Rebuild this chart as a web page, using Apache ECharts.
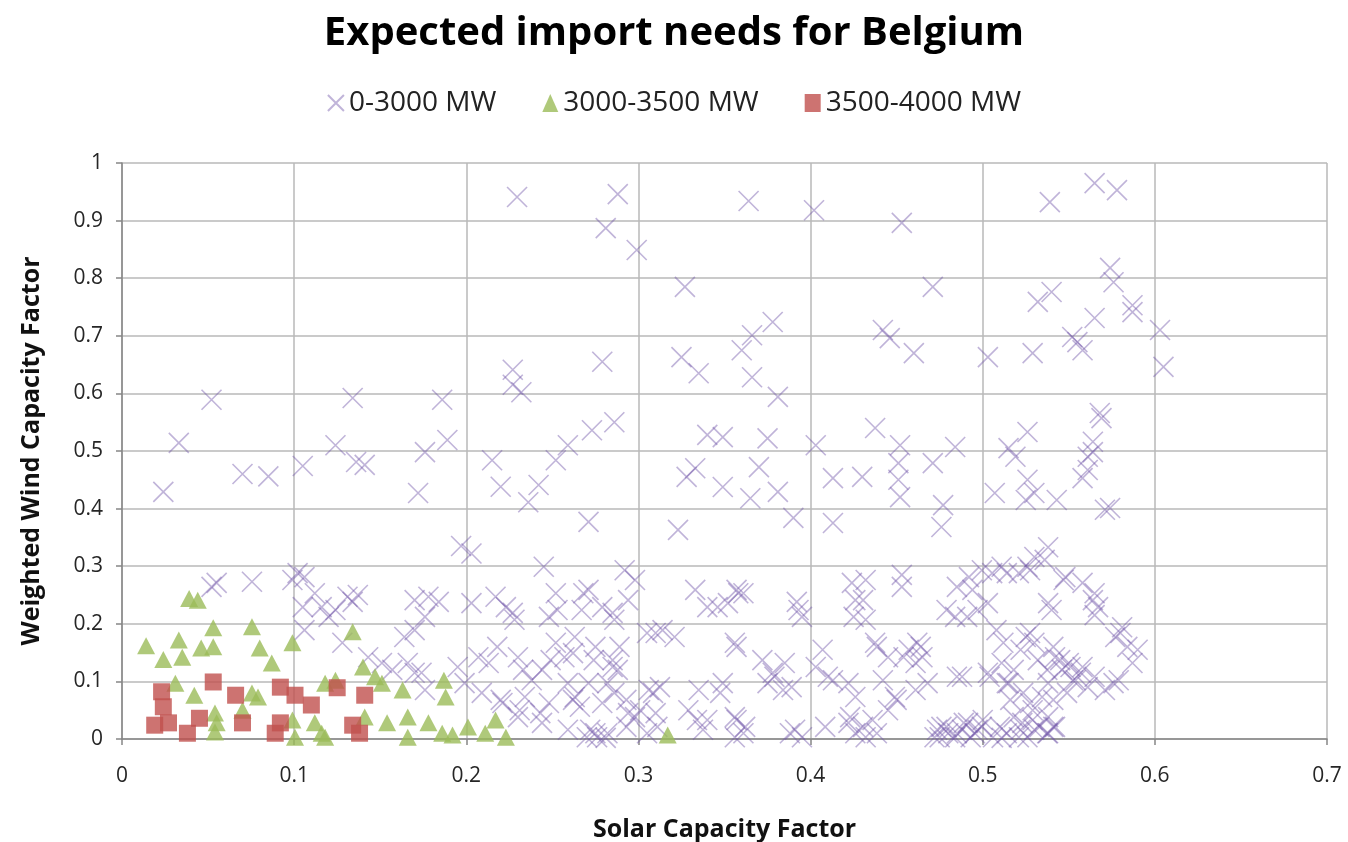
<!DOCTYPE html>
<html>
<head>
<meta charset="utf-8">
<title>Expected import needs for Belgium</title>
<script src="https://cdn.jsdelivr.net/npm/echarts@6/dist/echarts.min.js"></script>
<style>
  html, body { margin: 0; padding: 0; background: #ffffff; }
  #chart { width: 1348px; height: 842px; }
</style>
</head>
<body>
<div id="chart"></div>
<script>
// Legend / series names
const seriesNames = ['0-3000 MW', '3000-3500 MW', '3500-4000 MW'];

// Axis ticks
const xTicks = [0, 0.1, 0.2, 0.3, 0.4, 0.5, 0.6, 0.7];
const yTicks = [0, 0.1, 0.2, 0.3, 0.4, 0.5, 0.6, 0.7, 0.8, 0.9, 1];

// [solar capacity factor, weighted wind capacity factor] — import need 0-3000 MW
const importLow = [
  [0.024,0.429],[0.033,0.514],[0.052,0.589],[0.070,0.460],[0.085,0.456],[0.105,0.474],[0.124,0.51],[0.134,0.592],[0.136,0.481],[0.141,0.476],
  [0.172,0.427],[0.176,0.498],[0.186,0.589],[0.189,0.519],[0.197,0.335],[0.203,0.322],
  [0.215,0.484],[0.220,0.438],[0.227,0.641],[0.227,0.615],[0.232,0.602],[0.2295,0.941],[0.236,0.411],[0.242,0.441],[0.252,0.484],[0.259,0.51],
  [0.273,0.536],[0.286,0.55],[0.271,0.377],[0.279,0.655],[0.281,0.887],[0.288,0.946],[0.299,0.849],[0.323,0.363],[0.325,0.663],[0.327,0.785],
  [0.328,0.455],[0.333,0.470],[0.335,0.635],[0.34,0.528],
  [0.349,0.524],[0.349,0.4375],[0.360,0.675],[0.364,0.934],[0.365,0.418],[0.366,0.701],[0.366,0.628],[0.370,0.472],[0.375,0.522],[0.378,0.724],
  [0.381,0.594],[0.381,0.429],[0.390,0.384],[0.402,0.918],[0.403,0.51],[0.413,0.453],[0.413,0.375],[0.430,0.455],[0.4375,0.54],[0.442,0.710],
  [0.446,0.696],[0.451,0.479],[0.451,0.45],[0.452,0.42],[0.452,0.51],[0.453,0.896],[0.460,0.670],[0.471,0.785],[0.471,0.479],[0.476,0.368],
  [0.477,0.406],[0.484,0.507],[0.503,0.663],[0.507,0.427],[0.515,0.505],[0.519,0.49],
  [0.525,0.415],[0.526,0.533],[0.526,0.45],[0.529,0.670],[0.530,0.427],[0.532,0.759],[0.539,0.932],[0.540,0.776],[0.543,0.415],[0.552,0.698],
  [0.555,0.689],[0.558,0.675],[0.558,0.453],[0.561,0.49],[0.561,0.467],[0.564,0.516],[0.564,0.498],[0.565,0.731],[0.565,0.965],[0.568,0.566],
  [0.569,0.557],[0.571,0.398],[0.574,0.401],[0.574,0.818],[0.576,0.793],[0.578,0.953],[0.587,0.753],[0.587,0.741],[0.603,0.71],[0.605,0.646],
  [0.052,0.264],[0.055,0.271],[0.0755,0.273],[0.099,0.276],[0.102,0.288],[0.106,0.281],[0.112,0.253],[0.105,0.229],[0.106,0.189],[0.116,0.229],
  [0.124,0.224],[0.131,0.247],[0.134,0.238],[0.137,0.25],[0.120,0.212],[0.128,0.167],[0.170,0.241],[0.170,0.189],[0.164,0.177],[0.143,0.142],
  [0.151,0.132],[0.157,0.12],[0.166,0.132],[0.170,0.115],
  [0.245,0.299],[0.292,0.293],[0.298,0.276],[0.333,0.259],[0.340,0.229],[0.178,0.247],[0.184,0.238],[0.176,0.212],[0.203,0.236],[0.217,0.247],
  [0.223,0.229],[0.228,0.207],[0.252,0.253],[0.253,0.224],[0.248,0.212],[0.271,0.259],[0.267,0.224],[0.279,0.229],[0.286,0.207],[0.294,0.241],
  [0.310,0.184],[0.321,0.177],[0.314,0.189],[0.218,0.160],[0.213,0.132],[0.230,0.142],[0.238,0.102],[0.244,0.12],[0.252,0.167],[0.257,0.142],
  [0.263,0.177],[0.275,0.160],[0.285,0.137],[0.288,0.12],[0.259,0.097],[0.263,0.073],[0.271,0.097],[0.279,0.0625],[0.286,0.08],[0.294,0.045],
  [0.298,0.038],[0.306,0.085],[0.310,0.045],[0.311,0.021],[0.329,0.05],[0.335,0.085],[0.340,0.033],[0.275,0.010],[0.270,0.003],[0.281,0.002],
  [0.207,0.142],[0.195,0.125],[0.199,0.097],[0.209,0.08],[0.221,0.0625],[0.234,0.073],[0.230,0.038],[0.244,0.028],[0.248,0.0625],[0.174,0.115],
  [0.176,0.085],
  [0.227,0.219],[0.268,0.253],[0.285,0.219],[0.305,0.184],[0.233,0.12],[0.249,0.137],[0.262,0.149],[0.274,0.137],[0.285,0.125],[0.289,0.16],
  [0.262,0.068],[0.266,0.056],[0.282,0.097],[0.293,0.068],[0.301,0.05],[0.3085,0.08],[0.3125,0.09],[0.22,0.068],[0.231,0.05],[0.243,0.045],
  [0.272,0.016],[0.276,0.003],[0.282,0.010],[0.293,0.021],[0.259,0.016],[0.305,0.010],
  [0.358,0.253],[0.352,0.236],[0.392,0.238],[0.393,0.224],[0.395,0.212],[0.424,0.271],[0.432,0.276],[0.426,0.241],[0.425,0.212],[0.453,0.285],
  [0.453,0.264],[0.432,0.207],[0.484,0.212],[0.492,0.281],[0.494,0.259],[0.497,0.224],[0.4995,0.293],[0.5055,0.288],[0.511,0.299],[0.356,0.167],
  [0.372,0.137],[0.379,0.108],[0.385,0.132],[0.375,0.097],[0.389,0.090],[0.349,0.097],[0.407,0.155],[0.403,0.125],[0.413,0.102],[0.422,0.097],
  [0.426,0.073],[0.4375,0.167],[0.445,0.142],[0.457,0.155],[0.461,0.132],[0.442,0.102],[0.449,0.073],[0.461,0.085],[0.445,0.05],[0.488,0.108],
  [0.503,0.115],[0.511,0.132],[0.515,0.097],[0.356,0.038],[0.362,0.021],[0.356,0.003],[0.391,0.016],[0.395,0.003],[0.4085,0.021],[0.422,0.028],
  [0.426,0.010],[0.432,0.003],[0.436,0.033],[0.476,0.021],[0.480,0.010],[0.484,0.003],[0.488,0.016],[0.4915,0.028],[0.4955,0.010],[0.4995,0.021],
  [0.472,0.003],
  [0.346,0.229],[0.357,0.259],[0.361,0.253],[0.357,0.16],[0.378,0.115],[0.384,0.085],[0.3475,0.08],[0.334,0.033],[0.3375,0.016],[0.357,0.033],
  [0.361,0.010],[0.388,0.010],[0.4305,0.241],[0.4385,0.16],[0.454,0.142],[0.462,0.167],[0.41,0.108],[0.450,0.068],[0.423,0.038],[0.4305,0.021],
  [0.4385,0.010],
  [0.538,0.333],[0.530,0.316],[0.526,0.299],[0.521,0.288],[0.536,0.311],[0.548,0.281],[0.558,0.271],[0.565,0.253],[0.567,0.229],[0.565,0.215],
  [0.538,0.236],[0.540,0.224],[0.581,0.194],[0.577,0.177],[0.590,0.155],[0.587,0.132],[0.579,0.102],[0.571,0.085],[0.565,0.108],[0.558,0.125],
  [0.55,0.132],[0.542,0.142],[0.546,0.12],[0.554,0.102],[0.538,0.097],[0.530,0.167],[0.525,0.177],[0.5345,0.073],[0.529,0.05],[0.538,0.038],
  [0.523,0.028],[0.530,0.016],[0.538,0.010],[0.521,0.003],[0.542,0.021],
  [0.485,0.264],[0.479,0.224],[0.491,0.212],[0.503,0.236],[0.514,0.288],[0.5275,0.293],[0.547,0.276],[0.564,0.241],[0.580,0.184],[0.584,0.16],
  [0.464,0.16],[0.465,0.142],[0.508,0.189],[0.512,0.167],[0.522,0.155],[0.5275,0.184],[0.541,0.16],[0.545,0.137],[0.551,0.125],[0.557,0.115],
  [0.5525,0.102],[0.561,0.09],[0.5375,0.12],[0.532,0.137],[0.518,0.12],[0.514,0.097],[0.504,0.108],[0.485,0.108],[0.468,0.097],[0.5235,0.08],
  [0.5275,0.0625],[0.516,0.068],[0.541,0.068],[0.549,0.08],[0.576,0.097],
  [0.4735,0.016],[0.479,0.021],[0.485,0.010],[0.489,0.028],[0.493,0.003],[0.497,0.016],[0.500,0.033],[0.475,0.003],[0.510,0.021],[0.514,0.010],
  [0.518,0.038],[0.522,0.016],[0.526,0.003],[0.529,0.033],[0.533,0.021],[0.5375,0.010],[0.541,0.021],[0.506,0.003],[0.511,0.002]
];

// import need 3000-3500 MW
const importMid = [
  [0.014,0.162],[0.024,0.138],[0.033,0.172],[0.035,0.142],[0.039,0.244],[0.044,0.241],[0.046,0.158],[0.053,0.193],[0.053,0.16],[0.0755,0.195],
  [0.080,0.158],[0.087,0.132],[0.099,0.167],[0.134,0.186],[0.140,0.125],[0.147,0.108],[0.151,0.097],[0.163,0.085],[0.031,0.097],[0.042,0.076],
  [0.0755,0.08],[0.079,0.073],[0.099,0.033],[0.118,0.097],[0.124,0.102],[0.112,0.028],[0.116,0.010],[0.054,0.045],[0.055,0.028],[0.154,0.028],
  [0.166,0.038],[0.166,0.003],[0.1005,0.003],[0.141,0.038],[0.070,0.05],[0.187,0.102],[0.188,0.073],[0.178,0.028],[0.186,0.010],[0.192,0.007],
  [0.201,0.021],[0.217,0.033],[0.211,0.010],[0.223,0.003],[0.317,0.007],[0.054,0.012],[0.118,0.003]
];

// import need 3500-4000 MW
const importHigh = [
  [0.023,0.082],[0.019,0.024],[0.027,0.028],[0.024,0.056],[0.038,0.010],[0.045,0.036],[0.053,0.099],[0.066,0.076],[0.070,0.028],[0.092,0.090],
  [0.089,0.010],[0.092,0.028],[0.1005,0.076],[0.110,0.059],[0.125,0.089],[0.134,0.024],[0.138,0.010],[0.141,0.076]
];

const chart = echarts.init(document.getElementById('chart'), null, { renderer: 'canvas' });

const FONT = '"Open Sans", Lato, sans-serif';
const tickFmt = v => (Math.round(v * 10) / 10).toString();

const axisCommon = {
  type: 'value',
  interval: 0.1,
  axisLine: { show: true, lineStyle: { color: '#868686', width: 1.5 } },
  axisTick: { show: true, inside: false, length: 6, lineStyle: { color: '#868686', width: 1.5 } },
  splitLine: { show: true, lineStyle: { color: '#b8b8b8', width: 1.5 } },
  axisLabel: { fontFamily: FONT, fontSize: 21, color: '#262626', formatter: tickFmt },
  nameLocation: 'middle',
  nameTextStyle: { fontFamily: FONT, fontSize: 25, fontWeight: 'bold', color: '#111' }
};

chart.setOption({
  backgroundColor: '#ffffff',
  animation: false,
  title: {
    text: 'Expected import needs for Belgium',
    left: 'center',
    top: 9,
    textStyle: { fontFamily: FONT, fontSize: 40, fontWeight: 'bold', color: '#000' }
  },
  legend: {
    top: 84,
    left: 'center',
    itemGap: 46,
    itemWidth: 16,
    itemHeight: 18,
    textStyle: { fontFamily: FONT, fontSize: 28, color: '#222' },
    data: seriesNames
  },
  grid: { left: 122, right: 21, top: 163, bottom: 103, containLabel: false, outerBoundsMode: 'none' },
  xAxis: Object.assign({}, axisCommon, {
    min: xTicks[0], max: xTicks[xTicks.length - 1],
    name: 'Solar Capacity Factor',
    nameGap: 78,
    axisLabel: Object.assign({}, axisCommon.axisLabel, { margin: 27 })
  }),
  yAxis: Object.assign({}, axisCommon, {
    min: yTicks[0], max: yTicks[yTicks.length - 1],
    name: 'Weighted Wind Capacity Factor',
    nameGap: 78,
    axisLabel: Object.assign({}, axisCommon.axisLabel, { margin: 19 })
  }),
  series: [
    {
      name: seriesNames[0],
      type: 'scatter',
      data: importLow,
      symbol: 'path://M0,0L10,10M10,0L0,10',
      symbolSize: 20,
      itemStyle: { color: 'rgba(0,0,0,0)', borderColor: 'rgba(112,84,168,0.55)', borderWidth: 1.6 },
      z: 2
    },
    {
      name: seriesNames[1],
      type: 'scatter',
      data: importMid,
      symbol: 'triangle',
      symbolSize: [18, 17],
      itemStyle: { color: '#9bbb59' },
      z: 3
    },
    {
      name: seriesNames[2],
      type: 'scatter',
      data: importHigh,
      symbol: 'rect',
      symbolSize: 17,
      itemStyle: { color: '#c0504d' },
      z: 4
    }
  ]
});
</script>
</body>
</html>
